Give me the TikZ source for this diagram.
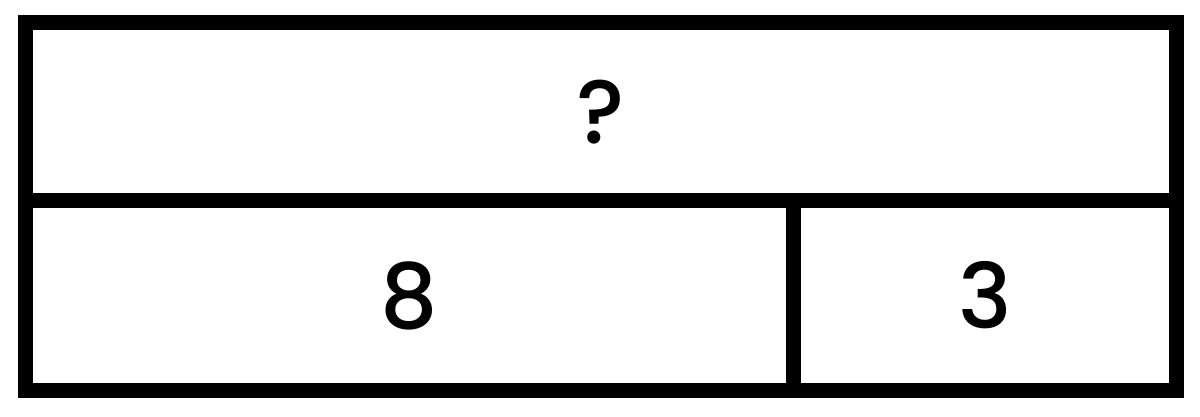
\documentclass[tikz,border=0pt]{standalone}
\usepackage{fontspec}
\setmainfont{Poppins}[UprightFont=* Medium]
\begin{document}
\begin{tikzpicture}[cell/.style={draw, line width=0.15cm, inner sep=0pt, font=\fontsize{25.6}{30}\selectfont}]
        \useasboundingbox (0,0) rectangle (12,4.17);
        \node[cell, minimum width=11.507cm, minimum height=1.775cm] (whole) at (6.0115,3.0525) {?};
        \node[cell, minimum width=7.672cm, minimum height=1.9cm] (partA) at (4.094,1.215) {8};
        \node[cell, minimum width=3.835cm, minimum height=1.9cm] (partB) at (9.8475,1.215) {3};
    \end{tikzpicture}
\end{document}
